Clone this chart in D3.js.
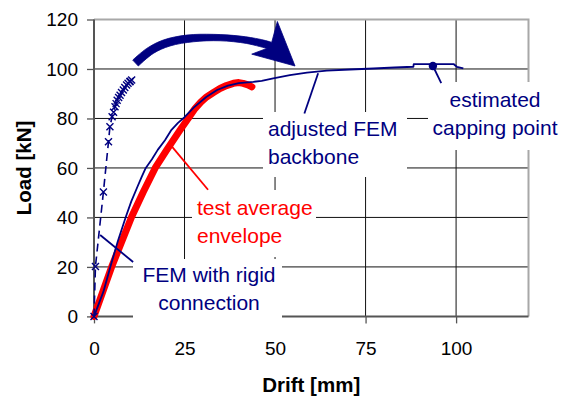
<!DOCTYPE html>
<html><head><meta charset="utf-8">
<script src="https://cdn.jsdelivr.net/npm/d3@7"></script>
<style>body{margin:0;background:#fff}svg{display:block}</style>
</head><body>
<svg id="chart" width="561" height="400"></svg>
<script>
// ---- data ----
const xTicks = [0, 25, 50, 75, 100];
const yTicks = [0, 20, 40, 60, 80, 100, 120];

const femRigidDrift = [0, 0.4, 2.6, 4.0, 4.4, 5.0, 5.4, 5.8, 6.1, 6.4, 6.8, 7.2, 7.6, 8.1, 8.5, 9.0, 9.4, 9.9, 10.0, 10.4];
const femRigidLoad  = [0, 20.2, 50.3, 70.6, 76.7, 80.7, 82.5, 84.7, 86.0, 87.4, 88.5, 89.4, 90.5, 91.5, 92.5, 93.5, 94.2, 94.8, 95.0, 95.5];

const testDrift = [0, 5, 10.4, 13.6, 16.9, 20.1, 23.8, 26, 27.9, 29.5, 31.1, 33, 34.8, 36.6, 38.5, 40, 41.2, 42.5, 43.6];
const testLoad  = [0, 20.5, 40.3, 50.3, 60, 67.3, 75.4, 80, 84, 86.6, 88.7, 90.5, 92.1, 93.3, 94.2, 94.5, 94.2, 93.6, 92.8];

const backboneDrift = [0, 2.6, 4.6, 6.6, 8.8, 10.3, 12.0, 13.2, 14.3, 16.0, 17.6, 19.6, 21.4, 23.2, 25.0, 27.6, 31, 34, 37, 40, 44, 46.3, 49.5, 54.1, 58.8, 64.3, 70.7, 77.2, 83, 88.2, 88.3, 93.7, 99.3, 100.2, 102];
const backboneLoad  = [0, 10, 20.5, 30.5, 40.3, 46.5, 52.4, 56.5, 60, 63.5, 67.3, 71.2, 75.4, 78.2, 80.5, 84.5, 88.7, 91.5, 93.3, 94.3, 94.8, 95.2, 96.2, 97.5, 98.5, 99.3, 99.8, 100.2, 100.6, 100.9, 102, 102, 102, 100.9, 100.2];

const cappingDrift = [93.6];
const cappingLoad  = [101.2];

// annotation arrow outline (data units)
const arrowTop = [[10.69,103.6],[14.56,108.3],[19.14,111.7],[25.6,113.7],[32.96,114.0],[40.33,113.3],[45.86,112.0],[49.09,110.8]];
const arrowHead = [[50.64,119.2],[55.52,101.2],[43.56,106.0],[47.71,108.3]];
const arrowBottom = [[47.71,108.3],[42.18,110.3],[34.81,111.4],[27.43,111.0],[21.0,109.3],[16.38,106.3],[12.24,101.2]];

// ---- layout ----
const svg = d3.select("#chart");
const x = d3.scaleLinear().domain([0, 120]).range([94, 528.5]);
const y = d3.scaleLinear().domain([0, 120]).range([316.4, 19.5]);
const navy = "#000080", red = "#ff0000";
const font = "'Liberation Sans', Arial, sans-serif";

// gridlines
svg.append("g").selectAll("line").data(yTicks.filter(d => d > 0 && d < 120)).join("line")
  .attr("x1", x(0)).attr("x2", x(120)).attr("y1", d => y(d)).attr("y2", d => y(d))
  .attr("stroke", "#111").attr("stroke-width", 1);
svg.append("g").selectAll("line").data(xTicks.filter(d => d > 0)).join("line")
  .attr("y1", y(0)).attr("y2", y(120)).attr("x1", d => x(d)).attr("x2", d => x(d))
  .attr("stroke", "#111").attr("stroke-width", 1);
// top and right border
svg.append("path").attr("d", `M${x(0)},${y(120)}H${x(120)}V${y(0)}`)
  .attr("fill", "none").attr("stroke", "#a8a8a8").attr("stroke-width", 2);

// axes
const xAxis = svg.append("g").attr("transform", `translate(0,${y(0)})`)
  .call(d3.axisBottom(x).tickValues(xTicks).tickSize(7).tickPadding(18));
const yAxis = svg.append("g").attr("transform", `translate(${x(0)},0)`)
  .call(d3.axisLeft(y).tickValues(yTicks).tickSize(7).tickPadding(9));
[xAxis, yAxis].forEach(a => {
  a.select(".domain").attr("stroke", "#555").attr("stroke-width", 2);
  a.selectAll(".tick line").attr("stroke", "#555").attr("stroke-width", 1.3);
  a.selectAll(".tick text").attr("font-family", font).attr("font-size", 19).attr("fill", "#000");
});
xAxis.select(".domain").attr("d", `M${x(0)},0H${x(120)}`);
yAxis.select(".domain").attr("d", `M0,${y(0)}V${y(120)}`);

// axis titles
svg.append("text").attr("x", (x(0) + x(120)) / 2).attr("y", 392).attr("text-anchor", "middle")
  .attr("font-family", font).attr("font-weight", "bold").attr("font-size", 20.5).text("Drift [mm]");
svg.append("text").attr("transform", `translate(31,168) rotate(-90)`).attr("text-anchor", "middle")
  .attr("font-family", font).attr("font-weight", "bold").attr("font-size", 20.5).text("Load [kN]");

// series
const mk = (dx, dy) => dx.map((d, i) => [d, dy[i]]);
const line = d3.line().x(d => x(d[0])).y(d => y(d[1]));

svg.append("path").attr("d", line(mk(testDrift, testLoad)))
  .attr("fill", "none").attr("stroke", red).attr("stroke-width", 7)
  .attr("stroke-linejoin", "round").attr("stroke-linecap", "round");
svg.append("path").attr("d", line(mk(backboneDrift, backboneLoad)))
  .attr("fill", "none").attr("stroke", navy).attr("stroke-width", 1.8).attr("stroke-linejoin", "round");
svg.append("path").attr("d", line(mk(femRigidDrift, femRigidLoad)))
  .attr("fill", "none").attr("stroke", navy).attr("stroke-width", 1.6).attr("stroke-dasharray", "8,5");
svg.append("g").selectAll("path").data(mk(femRigidDrift, femRigidLoad)).join("path")
  .attr("d", d => { const cx = x(d[0]), cy = y(d[1]), s = 3.5;
    return `M${cx-s},${cy-s}L${cx+s},${cy+s}M${cx-s},${cy+s}L${cx+s},${cy-s}`; })
  .attr("stroke", navy).attr("stroke-width", 1.4);
svg.append("g").selectAll("circle").data(mk(cappingDrift, cappingLoad)).join("circle")
  .attr("cx", d => x(d[0])).attr("cy", d => y(d[1])).attr("r", 4.2).attr("fill", navy);

// annotation boxes
const boxes = [
  {x: 263, y: 112, w: 144, h: 65, color: navy, anchor: "start", tx: 268, lines: ["adjusted FEM", "backbone"], by: 136},
  {x: 428, y: 82, w: 133, h: 68, color: navy, anchor: "middle", tx: 495, lines: ["estimated", "capping point"], by: 107},
  {x: 192, y: 190, w: 124, h: 67, color: red, anchor: "start", tx: 197, lines: ["test average", "envelope"], by: 215},
  {x: 133, y: 259, w: 149, h: 67, color: navy, anchor: "middle", tx: 209, lines: ["FEM with rigid", "connection"], by: 282}
];
boxes.forEach(b => {
  svg.append("rect").attr("x", b.x).attr("y", b.y).attr("width", b.w).attr("height", b.h).attr("fill", "#fff");
  b.lines.forEach((t, i) => svg.append("text").attr("x", b.tx).attr("y", b.by + i * 27.5)
    .attr("text-anchor", b.anchor).attr("font-family", font).attr("font-size", 21)
    .attr("fill", b.color).text(t));
});

// leader lines (data units)
const leaders = [
  {from: [58.1, 82.0], to: [61.9, 98.3], color: navy},
  {from: [93.6, 101.2], to: [95.9, 94.3], color: navy},
  {from: [31.5, 51.2], to: [21.3, 69.0], color: red},
  {from: [10.8, 22.0], to: [1.7, 32.9], color: navy}
];
svg.append("g").selectAll("line").data(leaders).join("line")
  .attr("x1", d => x(d.from[0])).attr("y1", d => y(d.from[1]))
  .attr("x2", d => x(d.to[0])).attr("y2", d => y(d.to[1]))
  .attr("stroke", d => d.color).attr("stroke-width", 1.8);

// big curved arrow
const cur = d3.line().x(d => x(d[0])).y(d => y(d[1])).curve(d3.curveCatmullRom);
const straight = d3.line().x(d => x(d[0])).y(d => y(d[1]));
const arrowD = cur(arrowTop) + straight(arrowHead).replace("M", "L") + cur(arrowBottom).replace("M", "L") + "Z";
svg.append("path").attr("d", arrowD).attr("fill", navy).attr("stroke", navy).attr("stroke-width", 0.8).attr("stroke-linejoin", "round");
</script>
</body></html>
